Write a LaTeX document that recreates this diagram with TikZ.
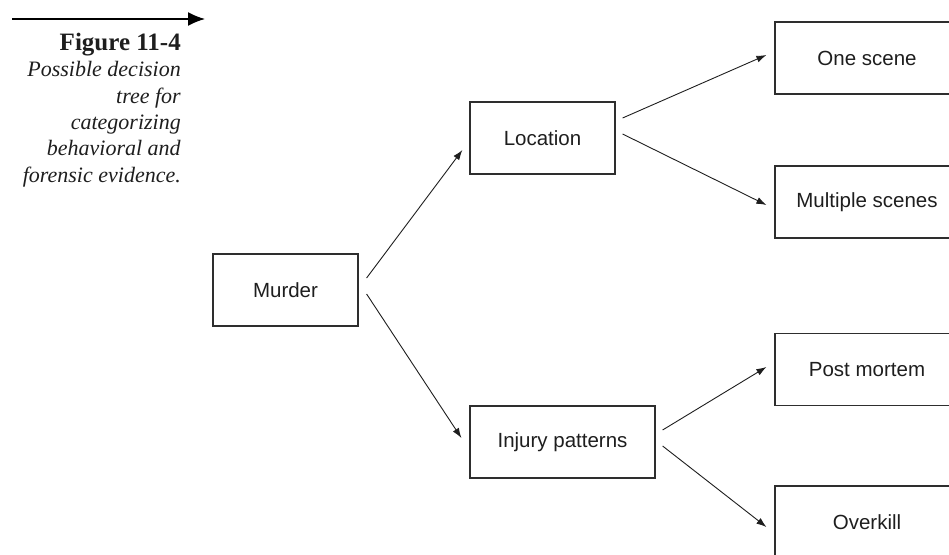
\documentclass[tikz,border=0pt]{standalone}
\usepackage{fontspec}
\setmainfont{Liberation Serif}
\setsansfont{Liberation Sans}
\usetikzlibrary{arrows.meta}
\definecolor{ink}{HTML}{1E1E1E}
\definecolor{edge}{HTML}{2E2E2E}
\tikzset{
  box/.style={draw=edge, line width=1.2pt, inner sep=0pt, minimum height=72pt,
    text=ink, font=\sffamily\fontsize{20.5}{24}\selectfont},
  link/.style={draw=ink, line width=0.9pt,
    -{Latex[length=10pt,width=7pt]}},
  bigarrow/.style={draw=black, line width=1.6pt,
    -{Latex[length=17pt,width=14pt]}},
}
\begin{document}
\begin{tikzpicture}[x=1pt,y=-1pt]
\useasboundingbox (0,0) rectangle (949,554);
\clip (0,0) rectangle (949,554);

% rule with arrow above the caption
\coordinate (rs) at (12,19);
\coordinate (re) at (205,19);
\draw[bigarrow] (rs) -- (re);

% caption
\node[anchor=north east, align=right, inner sep=0pt, text=ink,
      font=\fontsize{22}{26.3}\selectfont] (caption) at (181,33)
  {{\fontsize{25}{26.3}\selectfont\bfseries Figure 11-4}\\
   \textit{Possible decision}\\
   \textit{tree for}\\
   \textit{categorizing}\\
   \textit{behavioral and}\\
   \textit{forensic evidence.}};

% decision tree
\node[box, minimum width=145pt] (murder) at (285.5,290) {Murder};
\node[box, minimum width=145pt] (loc)    at (542.5,138) {Location};
\node[box, minimum width=185pt] (inj)    at (562.5,442) {Injury patterns};
\node[box, minimum width=184pt] (one)    at (867,58)    {One scene};
\node[box, minimum width=184pt] (multi)  at (867,202)   {Multiple scenes};
\node[box, minimum width=184pt] (post)   at (867,369.5) {Post mortem};
\node[box, minimum width=184pt] (over)   at (867,522)   {Overkill};

\draw[link] ([xshift=8pt,yshift=12pt]murder.east) -- ([xshift=-7pt,yshift=-12pt]loc.west);
\draw[link] ([xshift=8pt,yshift=-4pt]murder.east) -- ([xshift=-8pt,yshift=4pt]inj.west);
\draw[link] ([xshift=7pt,yshift=20pt]loc.east) -- ([xshift=-8pt,yshift=3pt]one.west);
\draw[link] ([xshift=7pt,yshift=4pt]loc.east) -- ([xshift=-8pt,yshift=-3pt]multi.west);
\draw[link] ([xshift=7pt,yshift=12pt]inj.east) -- ([xshift=-8pt,yshift=2.5pt]post.west);
\draw[link] ([xshift=7pt,yshift=-4pt]inj.east) -- ([xshift=-8pt,yshift=-5pt]over.west);
\end{tikzpicture}
\end{document}
